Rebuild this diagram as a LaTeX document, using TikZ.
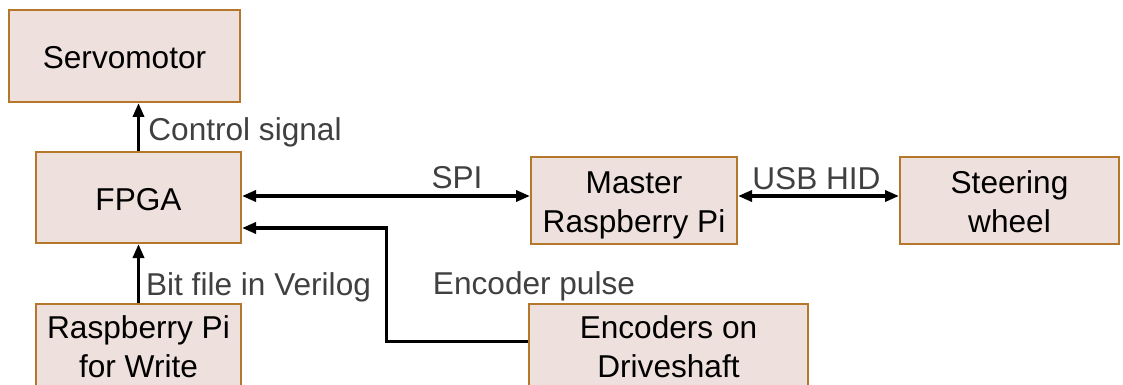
\documentclass[tikz,border=0pt]{standalone}
\usepackage{fontspec}
\setmainfont{Liberation Sans}
\usetikzlibrary{arrows.meta}
\definecolor{boxfill}{HTML}{EEE0DC}
\definecolor{boxline}{HTML}{B5772C}
\definecolor{labeltext}{HTML}{404040}
\newcommand\linestrut{\rule[-3.35pt]{0pt}{19.5pt}}
\begin{document}
\begin{tikzpicture}[x=0.5pt,y=-0.5pt,
  blockbox/.style={draw=boxline,fill=boxfill,line width=1pt,align=center,inner sep=0pt,
    minimum height=45.5pt,font=\fontsize{15.8}{19.5}\selectfont},
  lbl/.style={text=labeltext,inner sep=0pt,font=\fontsize{15.8}{19.5}\selectfont},
  conn/.style={line width=1.7pt,-{Triangle[length=7pt,width=5.5pt]}},
  dconn/.style={line width=1.7pt,{Triangle[length=7pt,width=5.5pt]}-{Triangle[length=7pt,width=5.5pt]}}]
\useasboundingbox (0,0) rectangle (1123,385);
\node[blockbox,minimum width=115.5pt,minimum height=46pt] (servo) at (124.5,56) {\linestrut Servomotor};
\node[blockbox,minimum width=102.5pt] (fpga) at (138.5,197.5) {\linestrut FPGA};
\node[blockbox,minimum width=102.5pt,minimum height=41.5pt] (rpw) at (138.5,345.5) {\linestrut Raspberry Pi\\\linestrut for Write};
\node[blockbox,minimum width=103pt,minimum height=43.5pt] (master) at (634,200.5) {\linestrut Master\\\linestrut Raspberry Pi};
\node[blockbox,minimum width=109.5pt,minimum height=43.5pt] (steer) at (1009.5,200.5) {\linestrut Steering\\\linestrut wheel};
\node[blockbox,minimum width=139.5pt,minimum height=41.5pt] (enc) at (668.5,345.5) {\linestrut Encoders on\\\linestrut Driveshaft};
\coordinate (bend) at (386.5,228);
\draw[conn] (fpga.north) -- (fpga.north |- servo.south);
\draw[conn] (rpw.north) -- (fpga.south);
\draw[dconn] ([yshift=2.25pt]master.west -| fpga.east) -- ([yshift=2.25pt]master.west);
\draw[dconn] ([yshift=2.25pt]master.east) -- ([yshift=2.25pt]steer.west);
\draw[conn] ([yshift=1.9pt]enc.west) -| (bend) -- (bend -| fpga.east);
\node[lbl] (lc) at (245,132.5) {Control signal};
\node[lbl] (lspi) at (457,178) {SPI};
\node[lbl] (lusb) at (816.5,179) {USB HID};
\node[lbl] (lenc) at (534,286.5) {Encoder pulse};
\node[lbl] (lbit) at (258.5,287.5) {Bit file in Verilog};
\end{tikzpicture}
\end{document}
